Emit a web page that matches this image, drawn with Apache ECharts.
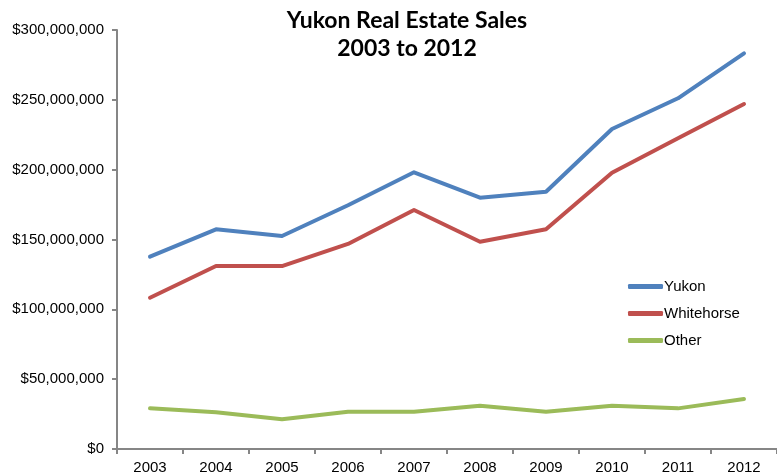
<!DOCTYPE html>
<html><head><meta charset="utf-8">
<script src="https://cdn.jsdelivr.net/npm/echarts@6/dist/echarts.min.js"></script>
<style>html,body{margin:0;padding:0;background:#fff}#c{width:777px;height:476px}</style>
</head><body><div id="c"></div>
<script>
const categories = ['2003','2004','2005','2006','2007','2008','2009','2010','2011','2012'];
const yukon = [137.7,157.3,152.5,174.5,198.1,179.9,184.2,229.1,251.1,283.3];
const whitehorse = [108.3,131.0,131.0,146.8,171.1,148.4,157.3,197.8,222.5,247.0];
const other = [29.1,26.3,21.3,26.7,26.7,31.0,26.7,31.0,29.1,35.8];
const seriesNames = ['Yukon','Whitehorse','Other'];
const colors = ['#4F81BD','#C0504D','#9BBB59'];
const M = 1e6;
const chart = echarts.init(document.getElementById('c'));
const fmt = v => '$' + Math.round(v).toLocaleString('en-US');
const data = [yukon, whitehorse, other];
chart.setOption({
  animation:false,
  title:{text:'Yukon Real Estate Sales\n2003 to 2012', left:402, top:2, textAlign:'center',
    textStyle:{fontFamily:'Lato', fontWeight:'bold', fontSize:23, lineHeight:28, color:'#000'}},
  legend:{orient:'vertical', left:623, top:274, itemWidth:35, itemHeight:5, itemGap:12,
    icon:'roundRect', textStyle:{fontFamily:'Liberation Sans', fontSize:15, color:'#000', padding:[0,0,0,-4]},
    data:seriesNames},
  grid:{left:117, top:30, width:666, height:419, containLabel:false},
  xAxis:{type:'category', data:categories, boundaryGap:true,
    axisLine:{lineStyle:{color:'#868686', width:2}},
    axisTick:{show:true, length:5, lineStyle:{color:'#868686', width:2}},
    axisLabel:{fontFamily:'Liberation Sans', fontSize:15, color:'#000', margin:11}},
  yAxis:{type:'value', min:0, max:300*M, interval:50*M,
    splitLine:{show:false},
    axisLine:{show:true, lineStyle:{color:'#868686', width:2}},
    axisTick:{show:true, length:5, lineStyle:{color:'#868686', width:2}},
    axisLabel:{fontFamily:'Liberation Sans', fontSize:15, color:'#000', margin:13, formatter:fmt}},
  series: seriesNames.map((n,i)=>({name:n, type:'line', data:data[i].map(v=>v*M),
    symbol:'none', lineStyle:{width:4, color:colors[i], cap:'round', join:'round'}, itemStyle:{color:colors[i]}}))
});
</script></body></html>
